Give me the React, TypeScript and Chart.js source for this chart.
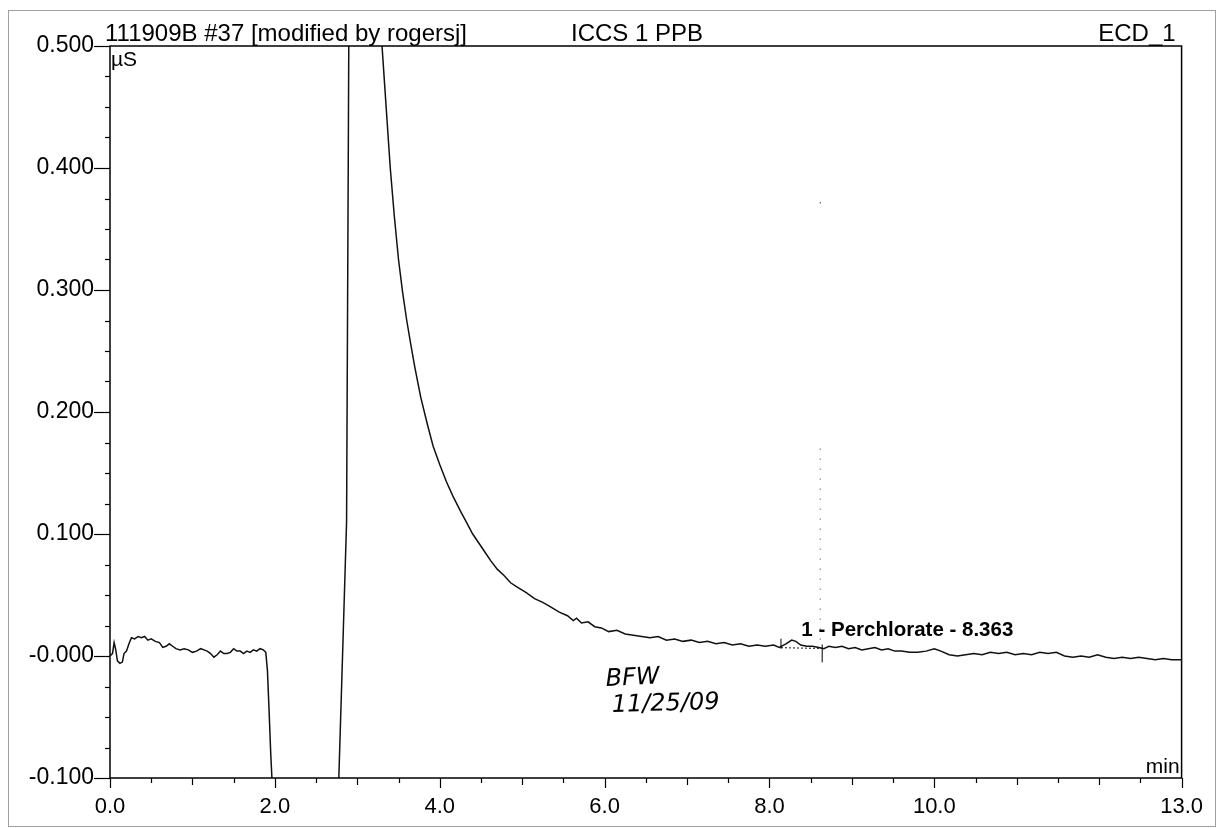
import React, { useEffect, useRef } from "react";
import { Chart, registerables } from "chart.js";

Chart.register(...registerables);

// ---- data ----
const timesMin: number[] = [
  0.0, 0.03, 0.05, 0.07, 0.09, 0.12, 0.15, 0.17, 0.2, 0.23, 0.26, 0.3, 0.34, 0.38, 0.42, 0.46, 0.5, 0.55, 0.6, 0.64,
  0.68, 0.72, 0.76, 0.8, 0.85, 0.9, 0.95, 1.0, 1.05, 1.1, 1.14, 1.18, 1.22, 1.26, 1.3, 1.34, 1.38, 1.42, 1.46, 1.5,
  1.54, 1.58, 1.62, 1.66, 1.7, 1.74, 1.78, 1.82, 1.86, 1.89, 1.91, 1.93, 1.95, 1.97, 2.0, 2.74, 2.776, 2.83, 2.87, 2.89,
  2.91, 3.0, 3.15, 3.26, 3.3, 3.33, 3.36, 3.4, 3.45, 3.5, 3.55, 3.6, 3.65, 3.7, 3.77, 3.85, 3.92, 4.0, 4.08, 4.16,
  4.25, 4.33, 4.4, 4.48, 4.56, 4.62, 4.7, 4.78, 4.86, 4.95, 5.05, 5.15, 5.25, 5.35, 5.45, 5.55, 5.62, 5.66, 5.72, 5.8,
  5.88, 5.96, 6.05, 6.15, 6.25, 6.35, 6.45, 6.55, 6.65, 6.75, 6.85, 6.95, 7.05, 7.15, 7.25, 7.35, 7.45, 7.55, 7.65, 7.75,
  7.85, 7.95, 8.05, 8.12, 8.2, 8.27, 8.32, 8.38, 8.45, 8.52, 8.6, 8.66, 8.72, 8.8, 8.88, 8.96, 9.04, 9.12, 9.2, 9.28,
  9.36, 9.44, 9.52, 9.6, 9.7, 9.8, 9.9, 10.0, 10.08, 10.18, 10.28, 10.38, 10.48, 10.58, 10.68, 10.78, 10.88, 10.98, 11.08, 11.18,
  11.28, 11.38, 11.48, 11.58, 11.68, 11.78, 11.88, 11.98, 12.08, 12.18, 12.28, 12.38, 12.48, 12.58, 12.68, 12.78, 12.88, 13.0,
];

const signalUS: number[] = [
  0.0, 0.002, 0.011, 0.005, -0.004, -0.006, -0.005, 0.002, 0.004, 0.01, 0.015, 0.014, 0.016, 0.015, 0.016, 0.013, 0.014, 0.012, 0.011, 0.007,
  0.008, 0.01, 0.008, 0.006, 0.005, 0.006, 0.005, 0.003, 0.004, 0.006, 0.005, 0.004, 0.002, -0.001, 0.001, 0.004, 0.002, 0.002, 0.003, 0.006,
  0.004, 0.004, 0.002, 0.004, 0.003, 0.005, 0.004, 0.006, 0.005, 0.003, -0.012, -0.045, -0.08, -0.108, -0.15, -0.15, -0.1, 0.02, 0.11, 0.4,
  0.7, 1.2, 1.0, 0.62, 0.5, 0.47, 0.44, 0.4, 0.36, 0.325, 0.298, 0.275, 0.255, 0.236, 0.212, 0.19, 0.172, 0.157, 0.143, 0.131,
  0.119, 0.109, 0.1, 0.092, 0.084, 0.078, 0.071, 0.066, 0.06, 0.056, 0.052, 0.047, 0.044, 0.04, 0.036, 0.033, 0.029, 0.031, 0.027, 0.028,
  0.024, 0.023, 0.02, 0.021, 0.018, 0.017, 0.016, 0.015, 0.016, 0.013, 0.014, 0.012, 0.013, 0.011, 0.012, 0.01, 0.011, 0.009, 0.01, 0.008,
  0.009, 0.008, 0.009, 0.007, 0.01, 0.013, 0.012, 0.009, 0.008, 0.008, 0.007, 0.006, 0.008, 0.007, 0.008, 0.006, 0.007, 0.005, 0.006, 0.007,
  0.005, 0.006, 0.004, 0.004, 0.003, 0.003, 0.004, 0.006, 0.004, 0.001, 0.0, 0.001, 0.002, 0.001, 0.003, 0.002, 0.003, 0.001, 0.002, 0.001,
  0.003, 0.002, 0.003, 0.0, -0.001, 0.0, -0.001, 0.001, -0.001, -0.002, -0.001, -0.002, -0.001, -0.002, -0.003, -0.002, -0.003, -0.003,
];

// integration baseline of peak 1
const peakBaseTimes: number[] = [8.14, 8.64];
const peakBaseValues: number[] = [0.0068, 0.0062];
const peakRetention = 8.363;
const peakLabel = "1 - Perchlorate - 8.363";

// axis labelling
const xLabelValues: number[] = [0, 2, 4, 6, 8, 10, 13];
const yTickValues: number[] = [-0.1, 0, 0.1, 0.2, 0.3, 0.4, 0.5];
const yTickLabels: string[] = ["-0.100", "-0.000", "0.100", "0.200", "0.300", "0.400", "0.500"];

const headerLeft = "111909B #37 [modified by rogersj]";
const headerMid = "ICCS 1 PPB";
const headerRight = "ECD_1";
const yUnit = "µS";
const xUnit = "min";
const noteLine1 = "BFW";
const noteLine2 = "11/25/09";

const FONT = '"Liberation Sans", Arial, Helvetica, sans-serif';

const decorPlugin = {
  id: "decor",
  afterDraw(chart: any) {
    const { ctx, chartArea: a, scales } = chart;
    const x = scales.x;
    const y = scales.y;
    ctx.save();
    // page frame (scan border)
    ctx.strokeStyle = "#a0a0a0";
    ctx.lineWidth = 1;
    ctx.strokeRect(8.5, 10.5, 1207, 816);

    // plot box
    ctx.strokeStyle = "#000";
    ctx.lineWidth = 1.5;
    ctx.strokeRect(a.left, a.top, a.right - a.left, a.bottom - a.top);

    // y ticks (major every 0.1, minor every 0.025)
    ctx.lineWidth = 1.2;
    for (let i = -4; i <= 20; i++) {
      const v = i * 0.025;
      const py = Math.round(y.getPixelForValue(v)) + 0.5;
      const len = i % 4 === 0 ? 16 : 5;
      ctx.beginPath();
      ctx.moveTo(a.left - len, py);
      ctx.lineTo(a.left, py);
      ctx.stroke();
    }
    // x ticks (every 0.5 min)
    for (let i = 0; i <= 26; i++) {
      const t = i * 0.5;
      const px = Math.round(x.getPixelForValue(t)) + 0.5;
      const labelled = xLabelValues.indexOf(t) >= 0;
      const len = labelled ? 10 : i % 2 === 0 ? 7 : 5;
      ctx.beginPath();
      ctx.moveTo(px, a.bottom);
      ctx.lineTo(px, a.bottom + len);
      ctx.stroke();
    }

    // header texts
    ctx.fillStyle = "#000";
    ctx.font = `24px ${FONT}`;
    ctx.textBaseline = "alphabetic";
    ctx.textAlign = "left";
    ctx.fillText(headerLeft, a.left - 5, a.top - 5);
    ctx.fillText(headerMid, 571, a.top - 5);
    ctx.textAlign = "right";
    ctx.fillText(headerRight, a.right - 6, a.top - 5);

    // units
    ctx.font = `21px ${FONT}`;
    ctx.textAlign = "left";
    ctx.textBaseline = "top";
    ctx.fillText(yUnit, a.left + 1, a.top + 4);
    ctx.textAlign = "right";
    ctx.textBaseline = "alphabetic";
    ctx.fillText(xUnit, a.right - 2, a.bottom - 5);

    // peak annotation
    const pxStart = x.getPixelForValue(peakBaseTimes[0]);
    const pxEnd = x.getPixelForValue(peakBaseTimes[1]);
    const pyStart = y.getPixelForValue(peakBaseValues[0]);
    const pyEnd = y.getPixelForValue(peakBaseValues[1]);
    ctx.lineWidth = 1;
    ctx.beginPath();
    ctx.moveTo(pxStart, pyStart - 9);
    ctx.lineTo(pxStart, pyStart + 1);
    ctx.moveTo(pxEnd, pyEnd - 4);
    ctx.lineTo(pxEnd, pyEnd + 14);
    ctx.stroke();
    // dotted retention marker
    ctx.setLineDash([1, 9]);
    ctx.strokeStyle = "#333";
    ctx.beginPath();
    ctx.moveTo(pxEnd - 2, y.getPixelForValue(0.17));
    ctx.lineTo(pxEnd - 2, y.getPixelForValue(0.012));
    ctx.stroke();
    ctx.setLineDash([]);
    ctx.fillStyle = "#444";
    ctx.fillRect(pxEnd - 2.5, y.getPixelForValue(0.372), 1.2, 1.2);

    ctx.fillStyle = "#000";
    ctx.font = `bold 20.5px ${FONT}`;
    ctx.textAlign = "left";
    ctx.textBaseline = "alphabetic";
    ctx.fillText(peakLabel, x.getPixelForValue(peakRetention) + 2, y.getPixelForValue(0.016));

    // handwritten note
    ctx.font = `italic 24px "DejaVu Sans", ${FONT}`;
    ctx.save();
    ctx.translate(606, 686);
    ctx.rotate(-0.05);
    ctx.fillText(noteLine1, 0, 0);
    ctx.restore();
    ctx.save();
    ctx.translate(612, 712);
    ctx.rotate(-0.03);
    ctx.fillText(noteLine2, 0, 0);
    ctx.restore();

    ctx.restore();
  },
};

export default function App() {
  const canvasRef = useRef<HTMLCanvasElement | null>(null);

  useEffect(() => {
    if (!canvasRef.current) return;
    const trace = timesMin.map((t, i) => ({ x: t, y: signalUS[i] }));
    const base = peakBaseTimes.map((t, i) => ({ x: t, y: peakBaseValues[i] }));
    const chart = new Chart(canvasRef.current, {
      type: "line",
      data: {
        datasets: [
          {
            data: trace,
            borderColor: "#111",
            borderWidth: 1.5,
            pointRadius: 0,
            tension: 0,
          },
          {
            data: base,
            borderColor: "#111",
            borderWidth: 1,
            borderDash: [2, 2],
            pointRadius: 0,
            tension: 0,
          },
        ],
      },
      options: {
        responsive: false,
        animation: false,
        layout: { padding: { left: 0, top: 46, right: 32, bottom: 0 } },
        plugins: { legend: { display: false }, tooltip: { enabled: false }, title: { display: false } },
        scales: {
          x: {
            type: "linear",
            min: 0,
            max: 13,
            afterFit: (s: any) => {
              s.height = 50;
            },
            afterBuildTicks: (s: any) => {
              s.ticks = xLabelValues.map((v) => ({ value: v }));
            },
            grid: { display: false, drawTicks: false },
            border: { display: false },
            ticks: {
              autoSkip: false,
              maxRotation: 0,
              padding: 16,
              color: "#000",
              font: { family: FONT, size: 22 },
              callback: (v: any) => Number(v).toFixed(1),
            },
          },
          y: {
            type: "linear",
            min: -0.1,
            max: 0.5,
            afterFit: (s: any) => {
              s.width = 110;
            },
            afterBuildTicks: (s: any) => {
              s.ticks = yTickValues.map((v) => ({ value: v }));
            },
            grid: { display: false, drawTicks: false },
            border: { display: false },
            ticks: {
              autoSkip: false,
              padding: 16,
              color: "#000",
              font: { family: FONT, size: 23 },
              callback: (v: any) => {
                const idx = yTickValues.findIndex((t) => Math.abs(t - Number(v)) < 1e-9);
                return idx >= 0 ? yTickLabels[idx] : "";
              },
            },
          },
        },
      },
      plugins: [decorPlugin],
    });
    return () => chart.destroy();
  }, []);

  return (
    <div style={{ position: "fixed", left: 0, top: 0, width: 1219, height: 828, background: "#fff" }}>
      <canvas ref={canvasRef} width={1219} height={828} style={{ display: "block" }} />
    </div>
  );
}
